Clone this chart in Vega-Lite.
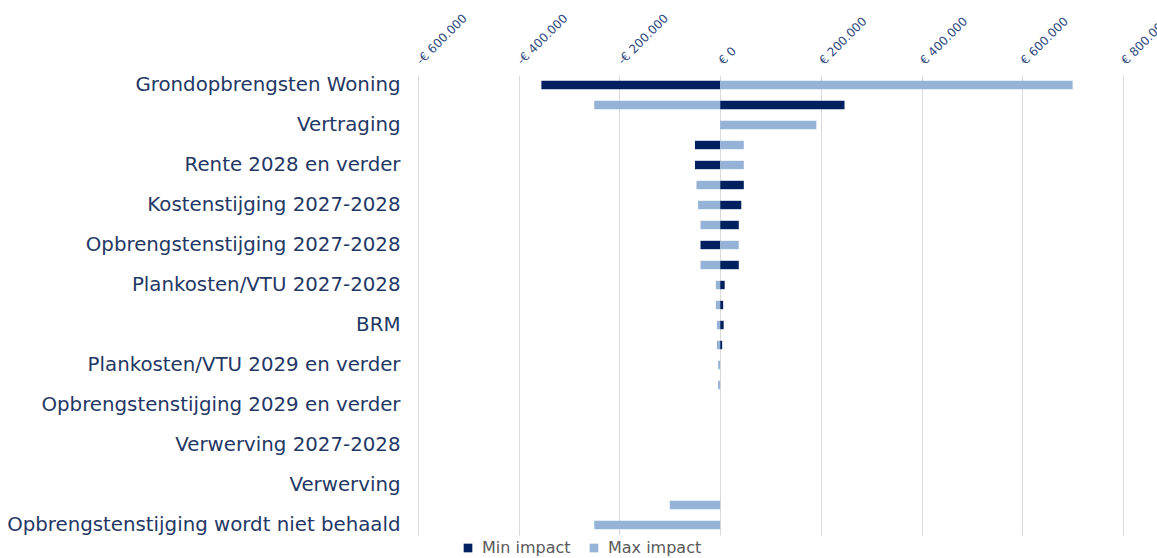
{
  "$schema": "https://vega.github.io/schema/vega-lite/v6.json",
  "autosize": "none",
  "width": 705,
  "height": 460,
  "padding": {"left": 418, "top": 75, "right": 34, "bottom": 23},
  "background": "white",
  "data": {
    "values": [
      {"rij": 0, "parameter": "Grondopbrengsten Woning", "scenario": "Min impact", "impact": -355000},
      {"rij": 0, "parameter": "Grondopbrengsten Woning", "scenario": "Max impact", "impact": 700000},
      {"rij": 1, "parameter": " ", "scenario": "Min impact", "impact": 247000},
      {"rij": 1, "parameter": " ", "scenario": "Max impact", "impact": -250000},
      {"rij": 2, "parameter": "Vertraging", "scenario": "Min impact", "impact": 0},
      {"rij": 2, "parameter": "Vertraging", "scenario": "Max impact", "impact": 191000},
      {"rij": 3, "parameter": "  ", "scenario": "Min impact", "impact": -50000},
      {"rij": 3, "parameter": "  ", "scenario": "Max impact", "impact": 47000},
      {"rij": 4, "parameter": "Rente 2028 en verder", "scenario": "Min impact", "impact": -50000},
      {"rij": 4, "parameter": "Rente 2028 en verder", "scenario": "Max impact", "impact": 47000},
      {"rij": 5, "parameter": "   ", "scenario": "Min impact", "impact": 47000},
      {"rij": 5, "parameter": "   ", "scenario": "Max impact", "impact": -47000},
      {"rij": 6, "parameter": "Kostenstijging 2027-2028", "scenario": "Min impact", "impact": 42000},
      {"rij": 6, "parameter": "Kostenstijging 2027-2028", "scenario": "Max impact", "impact": -44000},
      {"rij": 7, "parameter": "    ", "scenario": "Min impact", "impact": 37000},
      {"rij": 7, "parameter": "    ", "scenario": "Max impact", "impact": -39000},
      {"rij": 8, "parameter": "Opbrengstenstijging 2027-2028", "scenario": "Min impact", "impact": -39000},
      {"rij": 8, "parameter": "Opbrengstenstijging 2027-2028", "scenario": "Max impact", "impact": 37000},
      {"rij": 9, "parameter": "     ", "scenario": "Min impact", "impact": 37000},
      {"rij": 9, "parameter": "     ", "scenario": "Max impact", "impact": -39000},
      {"rij": 10, "parameter": "Plankosten/VTU 2027-2028", "scenario": "Min impact", "impact": 9000},
      {"rij": 10, "parameter": "Plankosten/VTU 2027-2028", "scenario": "Max impact", "impact": -8500},
      {"rij": 11, "parameter": "      ", "scenario": "Min impact", "impact": 6000},
      {"rij": 11, "parameter": "      ", "scenario": "Max impact", "impact": -8500},
      {"rij": 12, "parameter": "BRM", "scenario": "Min impact", "impact": 7000},
      {"rij": 12, "parameter": "BRM", "scenario": "Max impact", "impact": -6500},
      {"rij": 13, "parameter": "       ", "scenario": "Min impact", "impact": 4000},
      {"rij": 13, "parameter": "       ", "scenario": "Max impact", "impact": -6500},
      {"rij": 14, "parameter": "Plankosten/VTU 2029 en verder", "scenario": "Min impact", "impact": 0},
      {"rij": 14, "parameter": "Plankosten/VTU 2029 en verder", "scenario": "Max impact", "impact": -4000},
      {"rij": 15, "parameter": "        ", "scenario": "Min impact", "impact": 0},
      {"rij": 15, "parameter": "        ", "scenario": "Max impact", "impact": -4000},
      {"rij": 16, "parameter": "Opbrengstenstijging 2029 en verder", "scenario": "Min impact", "impact": 0},
      {"rij": 16, "parameter": "Opbrengstenstijging 2029 en verder", "scenario": "Max impact", "impact": 0},
      {"rij": 17, "parameter": "         ", "scenario": "Min impact", "impact": 0},
      {"rij": 17, "parameter": "         ", "scenario": "Max impact", "impact": 0},
      {"rij": 18, "parameter": "Verwerving 2027-2028", "scenario": "Min impact", "impact": 0},
      {"rij": 18, "parameter": "Verwerving 2027-2028", "scenario": "Max impact", "impact": 0},
      {"rij": 19, "parameter": "          ", "scenario": "Min impact", "impact": 0},
      {"rij": 19, "parameter": "          ", "scenario": "Max impact", "impact": 0},
      {"rij": 20, "parameter": "Verwerving", "scenario": "Min impact", "impact": 0},
      {"rij": 20, "parameter": "Verwerving", "scenario": "Max impact", "impact": 0},
      {"rij": 21, "parameter": "           ", "scenario": "Min impact", "impact": 0},
      {"rij": 21, "parameter": "           ", "scenario": "Max impact", "impact": -100000},
      {"rij": 22, "parameter": "Opbrengstenstijging wordt niet behaald", "scenario": "Min impact", "impact": 0},
      {"rij": 22, "parameter": "Opbrengstenstijging wordt niet behaald", "scenario": "Max impact", "impact": -250000}
    ]
  },
  "mark": {"type": "bar", "orient": "horizontal"},
  "encoding": {
    "y": {
      "field": "parameter",
      "type": "nominal",
      "sort": {"field": "rij", "op": "min", "order": "ascending"},
      "scale": {"paddingInner": 0.58, "paddingOuter": 0.29},
      "axis": {
        "title": null,
        "domain": false,
        "ticks": false,
        "labelPadding": 18,
        "labelFont": "DejaVu Sans",
        "labelFontSize": 19.8,
        "labelColor": "#1f3864",
        "labelLimit": 0
      }
    },
    "x": {
      "field": "impact",
      "type": "quantitative",
      "scale": {"domain": [-600000, 800000], "nice": false},
      "axis": {
        "orient": "top",
        "title": null,
        "values": [-600000, -400000, -200000, 0, 200000, 400000, 600000, 800000],
        "labelExpr": "(datum.value < 0 ? '-€ ' : '€ ') + replace(format(abs(datum.value), ',.0f'), ',', '.')",
        "labelAngle": -45,
        "labelAlign": "left",
        "labelBaseline": "middle",
        "labelPadding": 13,
        "labelFont": "DejaVu Sans",
        "labelFontSize": 12,
        "labelColor": "#2f4a80",
        "labelFlush": false,
        "labelOverlap": false,
        "domain": false,
        "ticks": false,
        "grid": true,
        "gridColor": "#d9d9d9",
        "gridWidth": 1
      }
    },
    "x2": {"datum": 0},
    "color": {
      "field": "scenario",
      "type": "nominal",
      "scale": {"domain": ["Min impact", "Max impact"], "range": ["#002060", "#95b3d7"]},
      "legend": {
        "title": null,
        "orient": "none",
        "legendX": 42,
        "legendY": 465,
        "direction": "horizontal",
        "symbolType": "square",
        "symbolSize": 75,
        "labelFont": "DejaVu Sans",
        "labelFontSize": 16,
        "labelColor": "#595959",
        "columnPadding": 15,
        "labelOffset": 6
      }
    }
  },
  "config": {"view": {"stroke": null}}
}
